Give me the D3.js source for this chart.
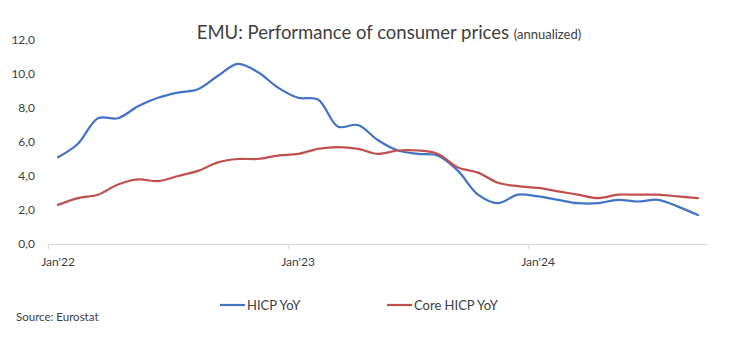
<!DOCTYPE html>
<html>
<head>
<meta charset="utf-8">
<script src="https://cdn.jsdelivr.net/npm/d3@7"></script>
<style>
  body { margin: 0; background: #fff; }
  text { font-family: Lato, "Open Sans", sans-serif; fill: #404040; }
</style>
</head>
<body>
<div id="app"></div>
<script>
// monthly euro area inflation, Jan 2022 - Sep 2024
const months = [
  '2022-01','2022-02','2022-03','2022-04','2022-05','2022-06','2022-07','2022-08','2022-09','2022-10','2022-11','2022-12',
  '2023-01','2023-02','2023-03','2023-04','2023-05','2023-06','2023-07','2023-08','2023-09','2023-10','2023-11','2023-12',
  '2024-01','2024-02','2024-03','2024-04','2024-05','2024-06','2024-07','2024-08','2024-09'
]
const hicp = [
  5.1, 5.9, 7.4, 7.4, 8.1, 8.6, 8.9, 9.1, 9.9, 10.6, 10.1, 9.2,
  8.6, 8.5, 6.9, 7.0, 6.1, 5.5, 5.3, 5.2, 4.3, 2.9, 2.4, 2.9,
  2.8, 2.6, 2.4, 2.4, 2.6, 2.5, 2.6, 2.2, 1.7
]
const core = [
  2.3, 2.7, 2.9, 3.5, 3.8, 3.7, 4.0, 4.3, 4.8, 5.0, 5.0, 5.2,
  5.3, 5.6, 5.7, 5.6, 5.3, 5.5, 5.5, 5.3, 4.5, 4.2, 3.6, 3.4,
  3.3, 3.1, 2.9, 2.7, 2.9, 2.9, 2.9, 2.8, 2.7
]
const yTicks = [0, 2, 4, 6, 8, 10, 12]
const xTickMonths = ['2022-01', '2023-01', '2024-01']
const xTickLabels = ["Jan'22", "Jan'23", "Jan'24"]
const seriesNames = ['HICP YoY', 'Core HICP YoY']
const colors = ['#4472C4', '#C0504D']

const W = 731, H = 337

const svg = d3.create('svg')
  .attr('width', W)
  .attr('height', H)
  .attr('viewBox', [0, 0, W, H])

const x = d3.scaleBand().domain(months).range([48, 708])
const y = d3.scaleLinear().domain([0, 12]).range([244, 40])
const fmt = d => d3.format('.1f')(d).replace('.', ',')

// title
const title = svg.append('text')
  .attr('x', 389)
  .attr('y', 39)
  .attr('text-anchor', 'middle')
title.append('tspan').style('font-size', '18.5px').text('EMU: Performance of consumer prices ')
title.append('tspan').style('font-size', '13px').text('(annualized)')

// y labels
svg.append('g')
  .selectAll('text')
  .data(yTicks)
  .join('text')
  .attr('x', 35)
  .attr('y', d => y(d) + 4)
  .attr('text-anchor', 'end')
  .style('font-size', '12px')
  .text(fmt)

// x axis
const xAxis = svg.append('g')
xAxis.append('line')
  .attr('x1', x.range()[0]).attr('x2', x.range()[1])
  .attr('y1', y(0) + 0.5).attr('y2', y(0) + 0.5)
  .attr('stroke', '#d9d9d9')
xAxis.selectAll('.tick')
  .data(xTickMonths)
  .join('line')
  .attr('x1', d => Math.round(x(d)) + 0.5).attr('x2', d => Math.round(x(d)) + 0.5)
  .attr('y1', y(0)).attr('y2', y(0) + 5)
  .attr('stroke', '#d9d9d9')
xAxis.selectAll('text')
  .data(xTickMonths)
  .join('text')
  .attr('x', d => x(d) + x.bandwidth() / 2)
  .attr('y', 266)
  .attr('text-anchor', 'middle')
  .style('font-size', '12px')
  .text((d, i) => xTickLabels[i])

// lines
const line = d3.line()
  .x((d, i) => x(months[i]) + x.bandwidth() / 2)
  .y(d => y(d))
  .curve(d3.curveCatmullRom.alpha(0.5))

svg.append('g')
  .selectAll('path')
  .data([hicp, core])
  .join('path')
  .attr('d', line)
  .attr('fill', 'none')
  .attr('stroke', (d, i) => colors[i])
  .attr('stroke-width', 2.2)
  .attr('stroke-linecap', 'round')

// legend
const legendX = [220, 387]
const legend = svg.append('g')
  .selectAll('g')
  .data(seriesNames)
  .join('g')
  .attr('transform', (d, i) => `translate(${legendX[i]},305)`)
legend.append('line')
  .attr('x1', 0).attr('x2', 25)
  .attr('stroke', (d, i) => colors[i])
  .attr('stroke-width', 2.2)
legend.append('text')
  .attr('x', 27)
  .attr('y', 4.5)
  .style('font-size', '13px')
  .text(d => d)

svg.append('text')
  .attr('x', 16)
  .attr('y', 321)
  .style('font-size', '11.5px')
  .text('Source: Eurostat')

d3.select('#app').append(() => svg.node())
</script>
</body>
</html>
